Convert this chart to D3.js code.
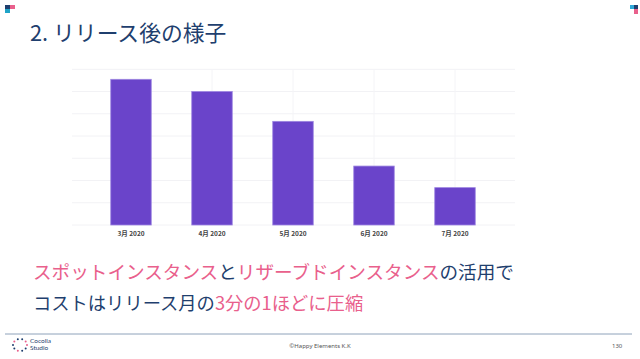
<!DOCTYPE html>
<html><head><meta charset="utf-8">
<script src="https://cdn.jsdelivr.net/npm/d3@7/dist/d3.min.js"></script>
<style>html,body{margin:0;padding:0;background:#fff;overflow:hidden}</style>
</head><body>
<svg id="c" width="640" height="359"></svg>
<script>
const categories = ["3月 2020","4月 2020","5月 2020","6月 2020","7月 2020"];
const costs = [6.55, 6.0, 4.66, 2.65, 1.68];
const yTicks = [0,1,2,3,4,5,6,7];

const svg = d3.select("#c");
const jp = "'Noto Sans CJK JP','Noto Sans',sans-serif";
const navy = "#1f3f6e", pink = "#e9608c";

// corner marks
const sq = [[5,5,5,4,"#1f3f6e"],[10,5,5,4,"#e9608c"],[5,9,5,4,"#1fa4c8"],
            [630,5,4,4,"#2ea8d8"],[634,5,4,4,"#1f3f6e"],[634,9,4,5,"#e9608c"]];
svg.selectAll("rect.sq").data(sq).join("rect").attr("class","sq")
  .attr("x",d=>d[0]).attr("y",d=>d[1]).attr("width",d=>d[2]).attr("height",d=>d[3]).attr("fill",d=>d[4]);

// title
svg.append("text").attr("x",30).attr("y",41).attr("font-family",jp).attr("font-size",21.8)
  .attr("fill",navy).text("2. リリース後の様子");

// chart
const x = d3.scaleBand().domain(categories).range([90.5,495.5]).paddingInner(0.5).paddingOuter(0.25);
const y = d3.scaleLinear().domain([0,7]).range([225,69.3]);
const g = svg.append("g");
g.selectAll("line.h").data(yTicks).join("line").attr("class","h")
  .attr("x1",72).attr("x2",515).attr("y1",d=>y(d)).attr("y2",d=>y(d))
  .attr("stroke","#f2f2f5").attr("stroke-width",1);
g.selectAll("line.v").data(categories.slice(1)).join("line").attr("class","v")
  .attr("x1",d=>x(d)+x.bandwidth()/2).attr("x2",d=>x(d)+x.bandwidth()/2)
  .attr("y1",y(7)).attr("y2",y(0)).attr("stroke","#f4f4f7");
g.selectAll("rect.bar").data(costs).join("rect").attr("class","bar")
  .attr("x",(d,i)=>x(categories[i])).attr("width",x.bandwidth())
  .attr("y",d=>y(d)).attr("height",d=>y(0)-y(d))
  .attr("fill","#6a44ca").attr("stroke","#9d86e0").attr("stroke-width",0.8);
const ax = g.append("g").attr("transform","translate(0,225)")
  .call(d3.axisBottom(x).tickSize(0).tickPadding(6));
ax.select(".domain").remove();
ax.selectAll("text").attr("font-family",jp).attr("font-size",6.5).attr("font-weight","bold").attr("fill","#444");

// message
const l1 = svg.append("text").attr("x",33).attr("y",279).attr("font-family",jp).attr("font-size",18.6);
l1.append("tspan").attr("fill",pink).text("スポットインスタンス");
l1.append("tspan").attr("fill",navy).text("と");
l1.append("tspan").attr("fill",pink).text("リザーブドインスタンス");
l1.append("tspan").attr("fill",navy).text("の活用で");
const l2 = svg.append("text").attr("x",33).attr("y",310).attr("font-family",jp).attr("font-size",18.3);
l2.append("tspan").attr("fill",navy).text("コストはリリース月の");
l2.append("tspan").attr("fill",pink).text("3分の1ほどに圧縮");

// footer
svg.append("line").attr("x1",5).attr("x2",632).attr("y1",334).attr("y2",334).attr("stroke","#8ea2ba").attr("stroke-width",1);
const dots = d3.range(10).map(i=>i*36);
svg.selectAll("circle.lg").data(dots).join("circle").attr("class","lg")
  .attr("cx",d=>20+7*Math.cos(d*Math.PI/180)).attr("cy",d=>345+6*Math.sin(d*Math.PI/180))
  .attr("r",1).attr("fill",(d,i)=>i%3===0?"#e9608c":"#1f3f6e");
svg.append("text").attr("x",30).attr("y",343).attr("font-family","Lato,sans-serif").attr("font-size",6.5).attr("fill","#1f3f6e").text("Cocolia");
svg.append("text").attr("x",30).attr("y",350).attr("font-family","Lato,sans-serif").attr("font-size",6.5).attr("fill","#1f3f6e").text("Studio");
svg.append("text").attr("x",320).attr("y",348).attr("text-anchor","middle").attr("font-family","'Noto Sans',sans-serif").attr("font-size",6).attr("fill","#555").text("©Happy Elements K.K");
svg.append("text").attr("x",612).attr("y",348).attr("font-family","'Noto Sans',sans-serif").attr("font-size",6).attr("fill","#555").text("130");
</script>
</body></html>
